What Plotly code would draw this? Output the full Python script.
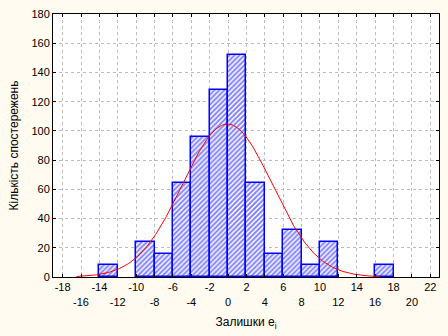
import numpy as np
import plotly.graph_objects as go

# Histogram of residuals (bin width 2)
bin_left = [-14, -10, -8, -6, -4, -2, 0, 2, 4, 6, 8, 10, 16]
counts = [8, 24, 16, 64, 96, 128, 152, 64, 16, 32, 8, 24, 8]
bin_width = 2

x_tick_vals = list(range(-18, 23, 2))
y_tick_vals = list(range(0, 181, 20))

mids = np.array(bin_left) + bin_width / 2
n = np.array(counts)
N = n.sum()
mu = (mids * n).sum() / N
sd = np.sqrt(((mids - mu) ** 2 * n).sum() / N)

xc = np.linspace(-16.5, 16.5, 331)
yc = N * bin_width / (sd * np.sqrt(2 * np.pi)) * np.exp(-0.5 * ((xc - mu) / sd) ** 2)

fig = go.Figure()
fig.add_trace(go.Bar(
    x=mids, y=counts, width=bin_width,
    marker=dict(color="white",
                line=dict(color="#0000FF", width=1.5),
                pattern=dict(shape="/", fgcolor="#0000FF", bgcolor="white",
                             size=3.5, solidity=0.55)),
    showlegend=False, hoverinfo="skip",
))
fig.add_trace(go.Scatter(x=xc, y=yc, mode="lines",
                         line=dict(color="#FF0000", width=1),
                         showlegend=False, hoverinfo="skip"))

ticktext = [str(v) if i % 2 == 0 else "\u00a0<br>" + str(v) for i, v in enumerate(x_tick_vals)]

fig.update_layout(
    width=448, height=336,
    margin=dict(l=53, r=8, t=10, b=59),
    paper_bgcolor="#FFFBF0", plot_bgcolor="white",
    font=dict(family="Liberation Sans, Arial, sans-serif", size=11, color="black"),
    bargap=0,
    xaxis=dict(range=[-19.05, 22.95], tickvals=x_tick_vals, ticktext=ticktext,
               ticks="inside", ticklen=3, tickcolor="black", mirror="ticks",
               showline=True, linecolor="black", linewidth=1,
               showgrid=True, gridcolor="#BBBBBB", griddash="dot", gridwidth=1,
               zeroline=False, tickangle=0,
               title=dict(text="Залишки e<sub>i</sub>", font=dict(size=12), standoff=11)),
    yaxis=dict(range=[0, 180], tickvals=y_tick_vals,
               ticks="inside", ticklen=3, tickcolor="black", mirror="ticks",
               showline=True, linecolor="black", linewidth=1,
               showgrid=True, gridcolor="#BBBBBB", griddash="dot", gridwidth=1,
               zeroline=False,
               title=dict(text="Кількість спостережень", font=dict(size=12), standoff=10)),
)

fig.write_html("out.html")
